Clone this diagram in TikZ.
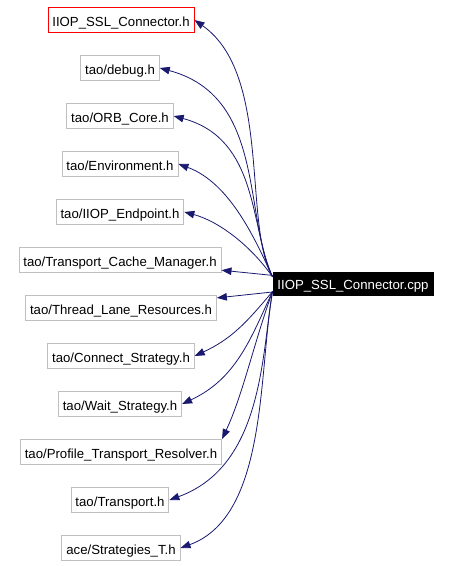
\documentclass[tikz,border=0pt]{standalone}
\usepackage{fontspec}
\setmainfont{Liberation Sans}
\usepackage{xcolor}
\usetikzlibrary{arrows.meta, positioning}

\definecolor{edgeblue}{RGB}{25,25,112}
\definecolor{boxgray}{RGB}{191,191,191}

\begin{document}
\begin{tikzpicture}[
    x=0.75pt, y=0.75pt,
    file/.style={draw=boxgray, fill=white, line width=0.7pt, minimum height=18.75pt, inner xsep=3.3pt, inner ysep=0pt,
                 text height=9.4pt, text depth=0pt, font=\fontsize{9.9}{11}\selectfont},
    root/.style={file, draw=red},
    src/.style={file, draw=black, fill=black, text=white, minimum height=17.25pt, text height=8.8pt},
    dep/.style={-{Triangle[length=7.5pt,width=5.6pt]}, draw=edgeblue, line width=0.6pt}
]
    \useasboundingbox (0,0) rectangle (451,-566);

    \node[src]  (cpp)      at (353,-283.5) {IIOP\_SSL\_Connector.cpp};

    \node[root] (sslh)     at (121,-20)  {IIOP\_SSL\_Connector.h};
    \node[file] (debug)    at (120,-68)  {tao/debug.h};
    \node[file] (orbcore)  at (120,-116) {tao/ORB\_Core.h};
    \node[file] (environ)  at (120,-164) {tao/Environment.h};
    \node[file] (endpoint) at (120,-212) {tao/IIOP\_Endpoint.h};
    \node[file] (cachemgr) at (120,-260) {tao/Transport\_Cache\_Manager.h};
    \node[file] (lanes)    at (121,-308) {tao/Thread\_Lane\_Resources.h};
    \node[file] (connstr)  at (121,-356) {tao/Connect\_Strategy.h};
    \node[file] (waitstr)  at (120,-404) {tao/Wait\_Strategy.h};
    \node[file] (resolver) at (121,-452) {tao/Profile\_Transport\_Resolver.h};
    \node[file] (transp)   at (120,-500) {tao/Transport.h};
    \node[file] (strat)    at (121,-548) {ace/Strategies\_T.h};

    % edges going up
    \draw[dep] ([yshift=5pt]cpp.west) to[out=120, in=-35, out looseness=0.57, in looseness=0.9] (sslh.east);
    \draw[dep] ([yshift=5pt]cpp.west) to[out=115, in=-15, out looseness=0.75, in looseness=1.18] (debug.east);
    \draw[dep] ([yshift=5pt]cpp.west) to[out=115, in=-15, out looseness=0.73, in looseness=1.2] (orbcore.east);
    \draw[dep] ([yshift=5pt]cpp.west) to[out=115, in=-20, out looseness=0.67, in looseness=0.97] (environ.east);
    \draw[dep] ([yshift=5pt]cpp.west) to[out=125, in=-15, out looseness=0.93, in looseness=0.81] (endpoint.east);
    % straight edges
    \draw[dep] (cpp) -- (cachemgr);
    \draw[dep] (cpp) -- (lanes);
    % edges going down
    \draw[dep] ([yshift=-6pt]cpp.west) to[out=-130, in=25, out looseness=1.03, in looseness=1.03] (connstr.east);
    \draw[dep] ([yshift=-6pt]cpp.west) to[out=-115, in=25, out looseness=0.9, in looseness=1.07] (waitstr.east);
    \draw[dep] ([yshift=-6pt]cpp.west) to[out=-110, in=65, out looseness=0.9, in looseness=0.82] (resolver.north east);
    \draw[dep] ([yshift=-6pt]cpp.west) to[out=-100, in=20, out looseness=0.7, in looseness=1.1] (transp.east);
    \draw[dep] ([yshift=-6pt]cpp.west) to[out=-100, in=20, out looseness=0.77, in looseness=0.87] (strat.east);
\end{tikzpicture}
\end{document}
